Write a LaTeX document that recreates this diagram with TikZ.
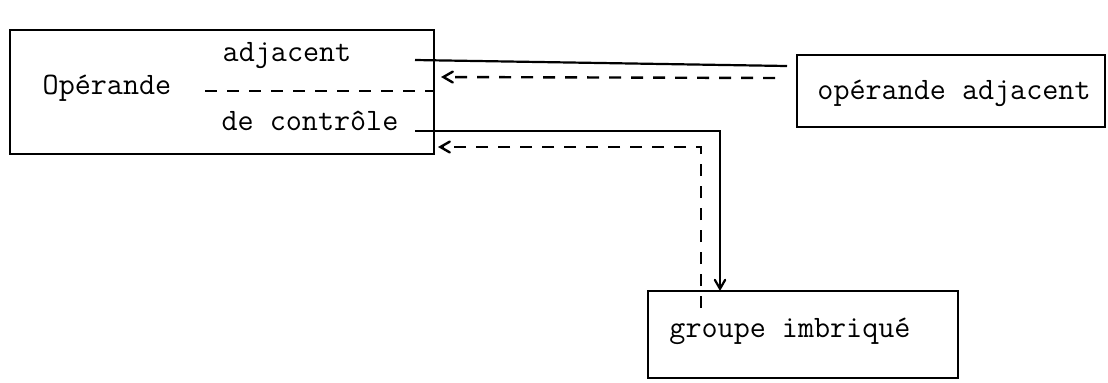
\documentclass[tikz,border=0pt]{standalone}
\usepackage{fontspec}
\usepackage{tikz}
\usetikzlibrary{arrows}

\tikzset{
    boite/.style={shape=rectangle,draw=black,line width=1.2pt,inner sep=0pt},
    texte/.style={font=\ttfamily\fontsize{15.6}{18}\selectfont,inner sep=1pt},
    trait/.style={line width=1.1pt},
    tirets/.style={line width=1.2pt,dash pattern=on 6pt off 5pt}
}

\begin{document}
\begin{tikzpicture}[x=0.5pt,y=-0.5pt,>=angle 60]
    \useasboundingbox (0,0) rectangle (1108,382);

    % les trois boites
    \node[boite,minimum width=212pt,minimum height=62pt] (op) at (222,92) {};
    \node[boite,minimum width=154pt,minimum height=36pt] (adjbox) at (951,91) {};
    \node[boite,minimum width=155pt,minimum height=43.5pt] (imbr) at (803,334.5) {};

    \node[texte] (operande) at (107,88) {Opérande};
    \node[texte] (adjacent) at (287,56) {adjacent};
    \node[texte] (controle) at (310,121) {de contrôle};
    \node[texte] (opadj) at (954,93) {opérande adjacent};
    \node[texte] (groupe) at (790,331) {groupe imbriqué};

    \coordinate (d0) at (205,91);
    \coordinate (a1) at (415,60);
    \coordinate (a2) at (787,66);
    \coordinate (r1) at (775,78);
    \coordinate (r2) at (441,77);
    \coordinate (c1) at (415,131);
    \coordinate (c2) at (720,291);
    \coordinate (e1) at (701,308);
    \coordinate (e2) at (438,147);

    \path[trait]
    (a1) edge (a2);
    \path[tirets]
    (d0) edge (op.east |- d0)
    (r1) edge[->] (r2);

    \draw[trait,->] (c1) -| (c2);
    \draw[tirets,->] (e1) |- (e2);
\end{tikzpicture}
\end{document}
